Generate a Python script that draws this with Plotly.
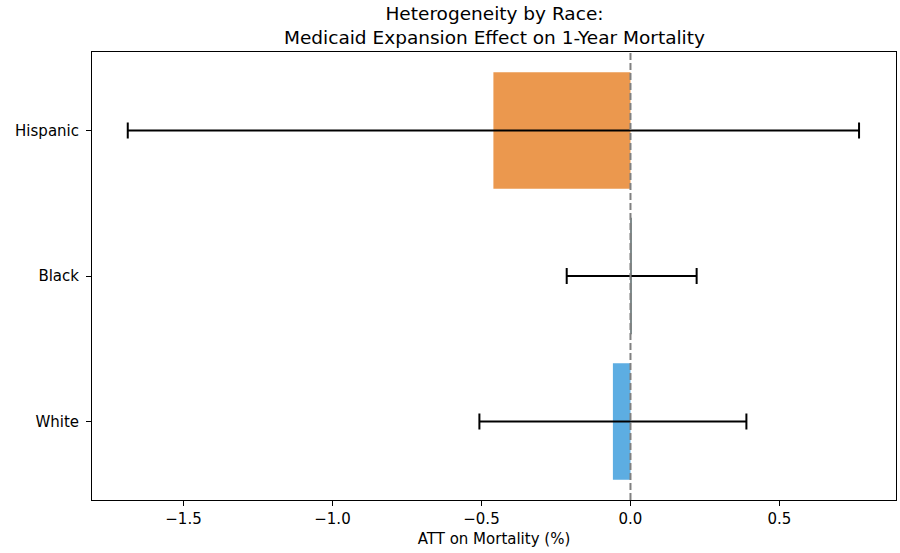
import plotly.graph_objects as go

# Race subgroups (bottom to top) with ATT estimates and 95% CI half-widths
races = ["White", "Black", "Hispanic"]
att = [-0.059, 0.004, -0.460]
ci_half = [0.448, 0.218, 1.227]
bar_colors = ["#5DADE2", "#7F8C8D", "#EB984E"]

x_ticks = [-1.5, -1.0, -0.5, 0.0, 0.5]
x_tick_labels = ["\u22121.5", "\u22121.0", "\u22120.5", "0.0", "0.5"]

FONT = "DejaVu Sans, Liberation Sans, sans-serif"

ypos = list(range(len(races)))

fig = go.Figure()
fig.add_trace(go.Bar(
    x=att,
    y=ypos,
    orientation="h",
    width=0.8,
    marker=dict(color=bar_colors, line=dict(width=0)),
    error_x=dict(type="data", array=ci_half, visible=True,
                 color="black", thickness=2, width=8),
    showlegend=False,
))

# reference line at zero effect
fig.add_shape(type="line", xref="x", yref="paper", x0=0, x1=0, y0=0, y1=1,
              line=dict(color="#808080", width=2, dash="7px,3px"), layer="above")

fig.add_annotation(
    text="Heterogeneity by Race:<br>Medicaid Expansion Effect on 1-Year Mortality",
    xref="paper", yref="paper", x=0.5, y=1, xanchor="center", yanchor="bottom",
    yshift=2, showarrow=False, align="center",
    font=dict(family=FONT, size=18.5, color="black"),
)

axis_common = dict(
    showline=True, linecolor="black", linewidth=1, mirror=True,
    ticks="outside", ticklen=5, tickcolor="black", tickwidth=1,
    showgrid=False, zeroline=False,
    tickfont=dict(family=FONT, size=15, color="black"),
)

fig.update_xaxes(
    range=[-1.807, 0.891],
    tickvals=x_ticks, ticktext=x_tick_labels,
    title=dict(text="ATT on Mortality (%)", standoff=6,
               font=dict(family=FONT, size=15, color="black")),
    **axis_common,
)
fig.update_yaxes(
    range=[-0.54, 2.54],
    tickvals=ypos, ticktext=races,
    ticklabelstandoff=4,
    **axis_common,
)

fig.update_layout(
    width=900, height=553,
    margin=dict(l=92, r=4, t=52, b=53),
    plot_bgcolor="white", paper_bgcolor="white",
    font=dict(family=FONT, color="black"),
)

fig.write_html("out.html")
